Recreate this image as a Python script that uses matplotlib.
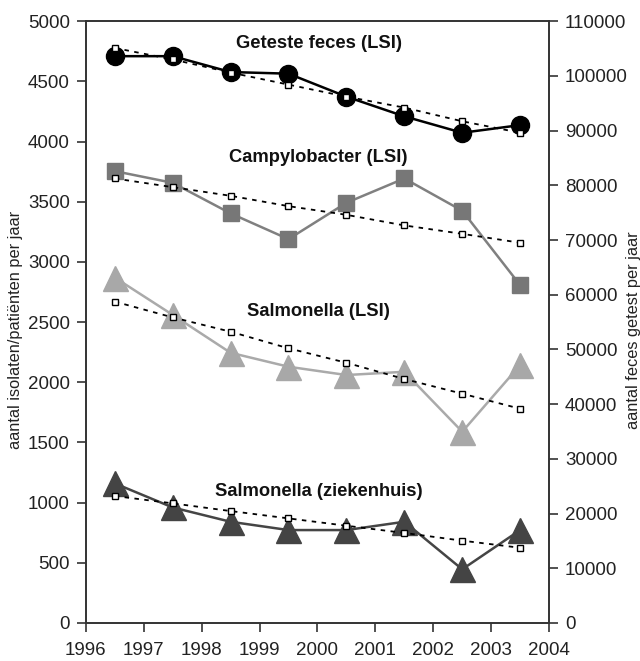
import matplotlib
matplotlib.use("Agg")
import matplotlib.pyplot as plt

plt.rcParams['font.family'] = ['Liberation Sans', 'DejaVu Sans']

years = [1996.5, 1997.5, 1998.5, 1999.5, 2000.5, 2001.5, 2002.5, 2003.5]

feces = [103600, 103600, 100700, 100400, 96200, 92600, 89600, 91000]
feces_trend = [105100, 103000, 100600, 98400, 96200, 94200, 91700, 89600]

campy = [3754, 3657, 3403, 3189, 3491, 3693, 3425, 2807]
campy_trend = [3693, 3621, 3549, 3463, 3391, 3303, 3233, 3159]

salm_lsi = [2870, 2560, 2245, 2129, 2060, 2087, 1589, 2143]
salm_lsi_trend = [2670, 2539, 2420, 2282, 2162, 2027, 1905, 1780]

salm_zh = [1160, 960, 841, 772, 772, 841, 446, 772]
salm_zh_trend = [1055, 994, 930, 869, 808, 748, 684, 625]

xticks = [1996, 1997, 1998, 1999, 2000, 2001, 2002, 2003, 2004]
left_ticks = [0, 500, 1000, 1500, 2000, 2500, 3000, 3500, 4000, 4500, 5000]
right_ticks = [0, 10000, 20000, 30000, 40000, 50000, 60000, 70000, 80000, 90000, 100000, 110000]

fig = plt.figure(figsize=(6.4, 6.61), dpi=100)
ax = fig.add_axes([0.134, 0.0575, 0.724, 0.9105])
ax2 = ax.twinx()

spine_c = '#333333'

def trend(a, x, y):
    a.plot(x, y, linestyle=(0, (2.5, 3)), color='black', lw=1.3,
           marker='s', markersize=5, markerfacecolor='white',
           markeredgecolor='black', markeredgewidth=1.0, zorder=4)

# Left axis series
ax.plot(years, campy, color='#808080', lw=1.8, marker='s', markersize=12,
        markerfacecolor='#777777', markeredgecolor='#777777', zorder=3)
trend(ax, years, campy_trend)
ax.plot(years, salm_lsi, color='#aaaaaa', lw=1.8, marker='^', markersize=18,
        markerfacecolor='#a8a8a8', markeredgecolor='#a8a8a8', zorder=3)
trend(ax, years, salm_lsi_trend)
ax.plot(years, salm_zh, color='#454545', lw=1.8, marker='^', markersize=18,
        markerfacecolor='#444444', markeredgecolor='#444444', zorder=3)
trend(ax, years, salm_zh_trend)

# Right axis series
ax2.plot(years, feces, color='black', lw=1.8, marker='o', markersize=13,
         markerfacecolor='black', markeredgecolor='black', zorder=3)
trend(ax2, years, feces_trend)

ax.set_xlim(1996, 2004)
ax.set_ylim(0, 5000)
ax2.set_ylim(0, 110000)
ax.set_xticks(xticks)
ax.set_yticks(left_ticks)
ax2.set_yticks(right_ticks)

for a in (ax, ax2):
    for s in a.spines.values():
        s.set_color(spine_c)
        s.set_linewidth(1.2)
    a.tick_params(direction='out', length=6.5, width=1.2, color=spine_c,
                  labelsize=13.5, labelcolor='#222222', pad=5)
ax.tick_params(axis='x', pad=7)

ax.set_ylabel('aantal isolaten/patiënten per jaar', fontsize=11.8, color='#222222')
ax.yaxis.set_label_coords(-0.136, 0.487)
ax2.set_ylabel('aantal feces getest per jaar', fontsize=11.8, color='#222222',
               rotation=90)
ax2.yaxis.set_label_coords(1.166, 0.487)

lab_kw = dict(ha='center', va='center', fontsize=13.2, fontweight='bold', color='#111111')
ax.text(2000.02, 4817, 'Geteste feces (LSI)', **lab_kw)
ax.text(2000.02, 3870, 'Campylobacter (LSI)', **lab_kw)
ax.text(2000.02, 2585, 'Salmonella (LSI)', **lab_kw)
ax.text(2000.02, 1090, 'Salmonella (ziekenhuis)', **lab_kw)

fig.savefig('out.png', dpi=100)
